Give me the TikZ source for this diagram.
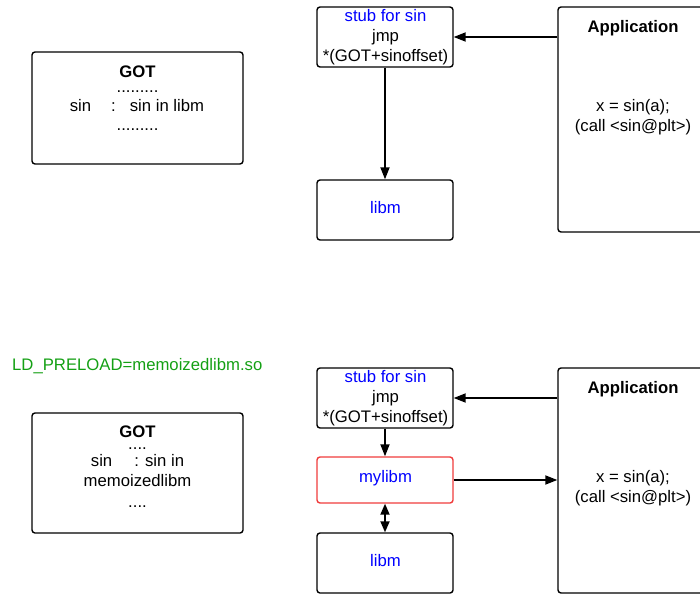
\documentclass[tikz,border=0pt]{standalone}
\usepackage{fontspec}
\setmainfont{Liberation Sans}
\usetikzlibrary{arrows.meta}
\definecolor{lblue}{RGB}{0,0,255}
\definecolor{lgreen}{RGB}{20,160,20}
\definecolor{lred}{RGB}{240,60,60}
\tikzset{
  box/.style={draw=black, line width=1.4pt, rounded corners=3pt},
  redbox/.style={draw=lred, line width=1.4pt, rounded corners=3pt},
  txt/.style={font=\fontsize{16.7}{20}\selectfont, inner sep=0pt, align=center},
  conn/.style={line width=1.8pt, -{Triangle[length=12pt,width=9pt]}},
  conn2/.style={line width=1.8pt, {Triangle[length=11pt,width=9pt]}-{Triangle[length=11pt,width=9pt]}},
}
\begin{document}
\begin{tikzpicture}[x=1pt,y=-1pt]
\useasboundingbox (0,0) rectangle (700,594);
\clip (0,0) rectangle (700,594);
% ---------- top ----------
\draw[box] (32,52) rectangle (243,164);
\node[txt,font=\fontsize{16.7}{20}\selectfont\bfseries] (g1t) at (137.5,72) {GOT};
\node[txt] (g1d1) at (137.5,92) {.........};
\node[txt] (g1s) at (137,106) {sin\hspace{20pt}:\hspace{14pt}sin in libm};
\node[txt] (g1d2) at (137.5,130) {.........};

\node[box, minimum width=136pt, minimum height=60pt, inner sep=0pt] (stub1) at (385,37) {};
\node[txt] (stub1t) at (385.5,37) {\textcolor{lblue}{stub for sin}\\jmp\\*(GOT+sinoffset)};
\node[box, minimum width=136pt, minimum height=60pt, inner sep=0pt] (libm1) at (385,210) {};
\node[txt, text=lblue] (libm1t) at (385.5,208) {libm};
\node[box, minimum width=150pt, minimum height=225pt, inner sep=0pt] (app1) at (633,119.5) {};
\node[txt,font=\fontsize{16.7}{20}\selectfont\bfseries] (app1t) at (633,28) {Application};
\node[txt] (app1c) at (633,117) {x = sin(a);\\(call <sin@plt>)};
\draw[conn] (app1.west |- stub1.east) -- (stub1.east);
\draw[conn] (stub1.south) -- (libm1.north);

% ---------- bottom ----------
\node[txt, text=lgreen, anchor=west] (ld) at (12,366) {LD\_PRELOAD=memoizedlibm.so};
\draw[box] (32,413) rectangle (243,533);
\node[txt,font=\fontsize{16.7}{20}\selectfont\bfseries] (g2t) at (137.5,432) {GOT};
\node[txt] (g2d1) at (137.5,449) {....};
\node[txt] (g2s) at (137.5,461) {sin\hspace{22pt}: sin in};
\node[txt] (g2m) at (137.5,481) {memoizedlibm};
\node[txt] (g2d2) at (137.5,507) {....};

\node[box, minimum width=136pt, minimum height=60pt, inner sep=0pt] (stub2) at (385,398) {};
\node[txt] (stub2t) at (385.5,398) {\textcolor{lblue}{stub for sin}\\jmp\\*(GOT+sinoffset)};
\node[redbox, minimum width=136pt, minimum height=46pt, inner sep=0pt] (mylibm) at (385,480) {};
\node[txt, text=lblue] (mylibmt) at (385.5,478) {mylibm};
\node[box, minimum width=136pt, minimum height=60pt, inner sep=0pt] (libm2) at (385,563) {};
\node[txt, text=lblue] (libm2t) at (385.5,561) {libm};
\node[box, minimum width=150pt, minimum height=225pt, inner sep=0pt] (app2) at (633,480.5) {};
\node[txt,font=\fontsize{16.7}{20}\selectfont\bfseries] (app2t) at (633,389) {Application};
\node[txt] (app2c) at (633,488) {x = sin(a);\\(call <sin@plt>)};
\draw[conn] (app2.west |- stub2.east) -- (stub2.east);
\draw[conn] (stub2.south) -- (mylibm.north);
\draw[conn] (mylibm.east) -- (mylibm.east -| app2.west);
\draw[conn2] (mylibm.south) -- (libm2.north);
\end{tikzpicture}
\end{document}
